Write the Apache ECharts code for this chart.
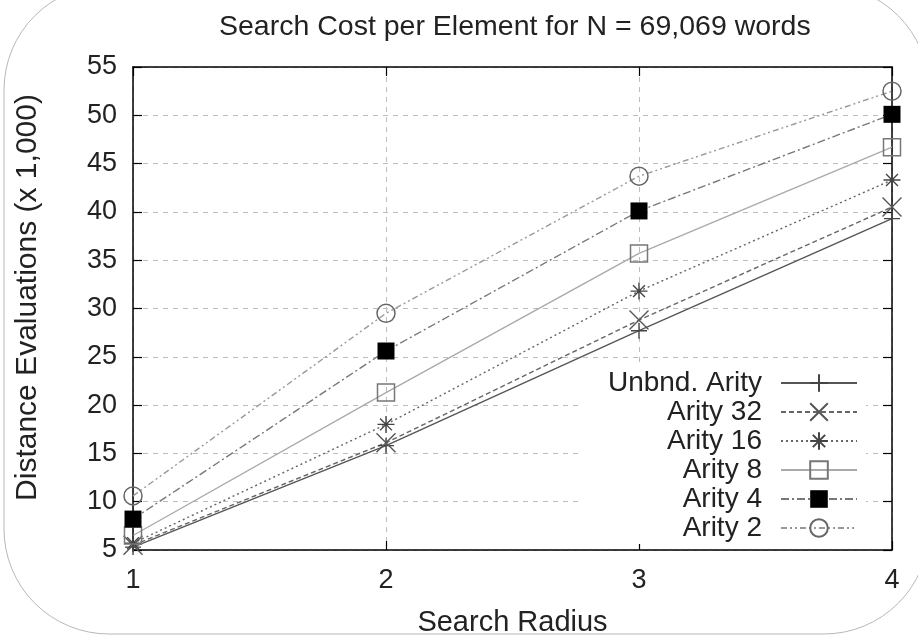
<!DOCTYPE html>
<html>
<head>
<meta charset="utf-8">
<script src="https://cdn.jsdelivr.net/npm/echarts@6/dist/echarts.min.js"></script>
<style>
html,body{margin:0;padding:0;background:#fff;}
#chart{width:918px;height:636px;}
</style>
</head>
<body>
<div id="chart"></div>
<script>
// ---- data ----
var radius = [1, 2, 3, 4];
var seriesNames = ['Unbnd. Arity', 'Arity 32', 'Arity 16', 'Arity 8', 'Arity 4', 'Arity 2'];
var unbnd   = [5.3, 15.8, 27.7, 39.3];
var arity32 = [5.5, 16.1, 28.8, 40.5];
var arity16 = [5.7, 18.0, 31.8, 43.3];
var arity8  = [6.5, 21.3, 35.7, 46.7];
var arity4  = [8.2, 25.6, 40.1, 50.1];
var arity2  = [10.6, 29.5, 43.7, 52.5];
var yTicks = [5, 55, 5];   // min, max, interval
var xTicks = [1, 4, 1];

function pairs(vals) {
  return vals.map(function (v, i) { return [radius[i], v]; });
}

var FONT = '"Liberation Sans", Arial, Helvetica, sans-serif';
var PLUS = 'path://M0,5 L10,5 M5,0 L5,10';
var CROSS = 'path://M0,0 L10,10 M0,10 L10,0';
var STAR = 'path://M0,5 L10,5 M5,0 L5,10 M1.5,1.5 L8.5,8.5 M1.5,8.5 L8.5,1.5';

function mk(name, vals, symbol, size, lineColor, dash, itemStyle) {
  return {
    name: name,
    type: 'line',
    data: pairs(vals),
    symbol: symbol,
    symbolSize: size,
    showAllSymbol: true,
    lineStyle: { color: lineColor, width: 1.4, type: dash },
    itemStyle: itemStyle,
    emphasis: { disabled: true },
    clip: false,
    z: 3
  };
}

var chart = echarts.init(document.getElementById('chart'), null, { renderer: 'canvas' });
chart.setOption({
  backgroundColor: '#ffffff',
  animation: false,
  textStyle: { fontFamily: FONT },
  title: {
    text: 'Search Cost per Element for N = 69,069 words',
    left: 214, top: 8,
    textStyle: { fontFamily: FONT, fontSize: 28.5, fontWeight: 'normal', color: '#222' }
  },
  graphic: [{
    type: 'rect', silent: true, z: -1,
    shape: { x: 4, y: -15, width: 925, height: 649, r: 105 },
    style: { fill: 'none', stroke: '#b8b8b8', lineWidth: 1 }
  }],
  grid: { left: 133, right: 26, top: 67, bottom: 86, containLabel: false, outerBoundsMode: 'none' },
  legend: {
    orient: 'vertical',
    align: 'right',
    right: 52, top: 365,
    padding: [4, 8, 2, 30],
    backgroundColor: '#ffffff',
    itemWidth: 76, itemHeight: 22, itemGap: 1,
    data: seriesNames,
    textStyle: { fontFamily: FONT, fontSize: 28, color: '#222', padding: [0, 14, 0, 0] },
    z: 10
  },
  xAxis: [{
    type: 'value', min: xTicks[0], max: xTicks[1], interval: xTicks[2],
    position: 'bottom',
    name: 'Search Radius', nameLocation: 'middle', nameGap: 58,
    nameTextStyle: { fontFamily: FONT, fontSize: 29, color: '#222' },
    axisLine: { show: true, lineStyle: { color: '#000', width: 1.5 } },
    axisTick: { show: true, inside: true, length: 9, lineStyle: { color: '#000', width: 1.2 } },
    axisLabel: { fontFamily: FONT, fontSize: 27, color: '#222', margin: 17 },
    splitLine: { show: true, lineStyle: { color: '#bdbdbd', type: [5, 5], width: 1 } }
  }, {
    type: 'value', min: xTicks[0], max: xTicks[1], interval: xTicks[2],
    position: 'top',
    axisLine: { show: true, lineStyle: { color: '#000', width: 1.5 } },
    axisTick: { show: true, inside: true, length: 9, lineStyle: { color: '#000', width: 1.2 } },
    axisLabel: { show: false },
    splitLine: { show: false }
  }],
  yAxis: [{
    type: 'value', min: yTicks[0], max: yTicks[1], interval: yTicks[2],
    position: 'left',
    name: 'Distance Evaluations (x 1,000)', nameLocation: 'middle', nameGap: 90, nameRotate: 90,
    nameTextStyle: { fontFamily: FONT, fontSize: 30, color: '#222', padding: [0, 0, 0, 22] },
    axisLine: { show: true, lineStyle: { color: '#000', width: 1.5 } },
    axisTick: { show: true, inside: true, length: 9, lineStyle: { color: '#000', width: 1.2 } },
    axisLabel: { fontFamily: FONT, fontSize: 27, color: '#222', margin: 16 },
    splitLine: { show: true, lineStyle: { color: '#bdbdbd', type: [5, 5], width: 1 } }
  }, {
    type: 'value', min: yTicks[0], max: yTicks[1], interval: yTicks[2],
    position: 'right',
    axisLine: { show: true, lineStyle: { color: '#000', width: 1.5 } },
    axisTick: { show: true, inside: true, length: 9, lineStyle: { color: '#000', width: 1.2 } },
    axisLabel: { show: false },
    splitLine: { show: false }
  }],
  series: [
    mk('Unbnd. Arity', unbnd, PLUS, 16, '#555', 'solid',
       { color: 'transparent', borderColor: '#444', borderWidth: 1.4 }),
    mk('Arity 32', arity32, CROSS, 19, '#666', [5, 3],
       { color: 'transparent', borderColor: '#555', borderWidth: 1.4 }),
    mk('Arity 16', arity16, STAR, 17, '#666', [2, 3],
       { color: 'transparent', borderColor: '#444', borderWidth: 1.4 }),
    mk('Arity 8', arity8, 'rect', 17, '#aaa', 'solid',
       { color: 'transparent', borderColor: '#777', borderWidth: 1.5 }),
    mk('Arity 4', arity4, 'rect', 17, '#777', [8, 3, 2, 3],
       { color: '#000', borderColor: '#000', borderWidth: 0 }),
    mk('Arity 2', arity2, 'circle', 18, '#999', [6, 3, 2, 3, 2, 3],
       { color: 'transparent', borderColor: '#666', borderWidth: 1.5 })
  ]
});
</script>
</body>
</html>
